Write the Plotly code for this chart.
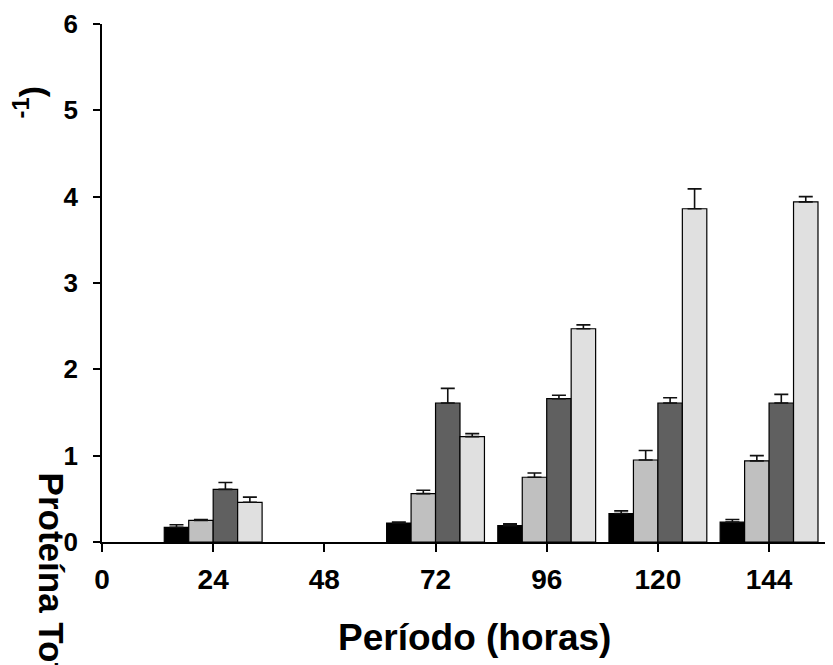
import plotly.graph_objects as go

periods = [24, 72, 96, 120, 144]
series_names = ["S1", "S2", "S3", "S4"]
colors = ["#000000", "#c0c0c0", "#606060", "#e0e0e0"]

s1 = [0.17, 0.22, 0.19, 0.33, 0.23]
s2 = [0.25, 0.56, 0.75, 0.95, 0.94]
s3 = [0.61, 1.61, 1.66, 1.61, 1.61]
s4 = [0.46, 1.22, 2.47, 3.86, 3.94]
e1 = [0.03, 0.01, 0.02, 0.03, 0.03]
e2 = [0.01, 0.04, 0.05, 0.11, 0.06]
e3 = [0.08, 0.17, 0.04, 0.06, 0.10]
e4 = [0.06, 0.035, 0.045, 0.23, 0.06]

x_ticks = [0, 24, 48, 72, 96, 120, 144]
y_ticks = [0, 1, 2, 3, 4, 5, 6]

FONT = "Liberation Sans, Arial, sans-serif"

fig = go.Figure()
for name, vals, errs, col in zip(series_names, [s1, s2, s3, s4], [e1, e2, e3, e4], colors):
    fig.add_trace(go.Bar(
        x=periods, y=vals, name=name,
        marker=dict(color=col, line=dict(color="#000000", width=1.2)),
        error_y=dict(type="data", array=errs, arrayminus=[0] * len(errs), symmetric=False,
                     color="#111111", thickness=1.6, width=7),
    ))

# page body has an 8px margin, so the figure is sized/placed to compensate
fig.update_layout(
    width=825, height=657,
    margin=dict(l=94, r=0, t=16, b=123, autoexpand=False),
    paper_bgcolor="white", plot_bgcolor="white",
    barmode="group", bargap=0.12, bargroupgap=0,
    showlegend=False,
    font=dict(family=FONT, color="#000000"),
)
fig.update_xaxes(
    range=[0, 157.8], tickmode="array", tickvals=x_ticks, ticktext=[str(t) for t in x_ticks],
    showline=True, linecolor="#000000", linewidth=2, showgrid=False, zeroline=False,
    ticks="outside", ticklen=8, tickwidth=1.5, tickcolor="#000000",
    tickfont=dict(family=FONT, size=28, weight="bold"), ticklabelstandoff=3,
    automargin=False,
)
fig.update_yaxes(
    range=[0, 6], tickmode="array", tickvals=y_ticks, ticktext=[str(t) for t in y_ticks],
    showline=True, linecolor="#000000", linewidth=1.5, showgrid=False, zeroline=False,
    ticks="outside", ticklen=7, tickwidth=1.5, tickcolor="#000000",
    tickfont=dict(family=FONT, size=26, weight="bold"), ticklabelstandoff=10,
    automargin=False,
)

fig.add_annotation(
    text="Período (horas)", xref="paper", yref="paper", x=0.509, y=-0.185,
    xanchor="center", yanchor="middle", showarrow=False,
    font=dict(family=FONT, size=37, weight="bold"),
)
fig.add_annotation(
    text="Proteína Total", xref="paper", yref="paper", x=-0.0698, y=0.137,
    xanchor="center", yanchor="top", textangle=90, showarrow=False,
    font=dict(family=FONT, size=35, weight="bold"),
)
fig.add_annotation(
    text="<sup>-1</sup>)", xref="paper", yref="paper", x=-0.101, y=0.849,
    xanchor="center", yanchor="middle", textangle=-90, showarrow=False,
    font=dict(family=FONT, size=34, weight="bold"),
)

fig.write_html("out.html")
